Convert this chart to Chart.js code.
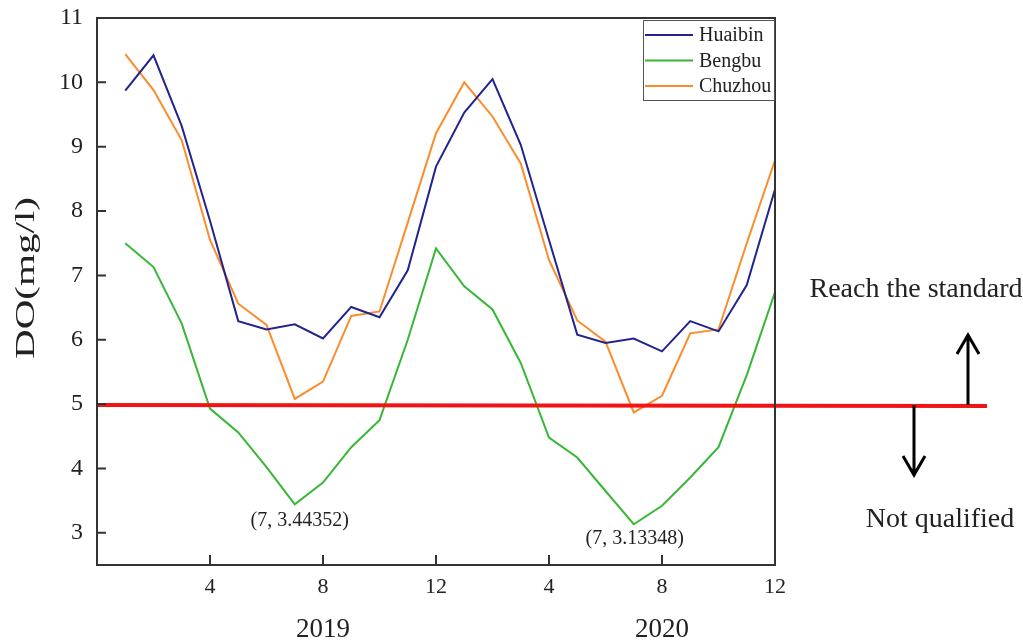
<!DOCTYPE html>
<html>
<head>
<meta charset="utf-8">
<script src="https://cdn.jsdelivr.net/npm/chart.js@4.4.1/dist/chart.umd.min.js"></script>
<style>
  body { margin: 0; background: #fff; }
  #wrap { width: 1023px; height: 642px; }
</style>
</head>
<body>
<div id="wrap"><canvas id="grafico" width="1023" height="642"></canvas></div>
<script>
// dados (mês 1..12 de 2019, depois 1..12 de 2020)
const anos = ['2019', '2020'];
const meses = [1, 2, 3, 4, 5, 6, 7, 8, 9, 10, 11, 12];

const huaibin = [9.87, 10.42, 9.32, 7.85, 6.29, 6.16, 6.24, 6.02, 6.51, 6.35, 7.08, 8.69,
                 9.53, 10.05, 9.03, 7.55, 6.08, 5.95, 6.02, 5.82, 6.29, 6.13, 6.85, 8.34];
const bengbu = [7.50, 7.13, 6.25, 4.93, 4.56, 4.02, 3.44352, 3.78, 4.33, 4.75, 6.00, 7.42,
                6.83, 6.47, 5.64, 4.48, 4.17, 3.65, 3.13348, 3.42, 3.86, 4.33, 5.45, 6.74];
const chuzhou = [10.44, 9.88, 9.10, 7.55, 6.56, 6.23, 5.08, 5.35, 6.37, 6.44, 7.82, 9.21,
                 10.00, 9.47, 8.74, 7.24, 6.30, 5.97, 4.87, 5.13, 6.10, 6.16, 7.50, 8.79];

const xTicks = [4, 8, 12, 16, 20, 24];
const xTickLabels = ['4', '8', '12', '4', '8', '12'];
const yTicks = [3, 4, 5, 6, 7, 8, 9, 10, 11];

const limite = 5; // padrão de OD (mg/l)
const minimos = [{ x: 7, y: 3.44352, texto: '(7, 3.44352)' }, { x: 19, y: 3.13348, texto: '(7, 3.13348)' }];

const serif = '"Liberation Serif", "DejaVu Serif", serif';

// eixo x contínuo: índice 1..24
const pontos = arr => arr.map((v, i) => ({ x: i + 1, y: v }));

const extras = {
    id: 'extras',
    afterDatasetsDraw(chart) {
        const ctx = chart.ctx;
        const xs = chart.scales.x, ys = chart.scales.y;
        const yl = ys.getPixelForValue(limite);
        ctx.save();

        // 🔹 linha vermelha do padrão
        ctx.strokeStyle = '#f01414';
        ctx.lineWidth = 4;
        ctx.beginPath();
        ctx.moveTo(chart.chartArea.left - 1, yl + 1);
        ctx.lineTo(987, yl + 2);
        ctx.stroke();

        // 🔹 rótulos dos mínimos
        ctx.fillStyle = '#222';
        ctx.font = '20px ' + serif;
        ctx.textAlign = 'center';
        ctx.textBaseline = 'middle';
        minimos.forEach((m, i) => {
            const px = xs.getPixelForValue(m.x);
            const py = ys.getPixelForValue(m.y);
            ctx.fillText(m.texto, px + (i === 0 ? 5 : 1), py + (i === 0 ? 16 : 15));
        });
        ctx.restore();
    },
    afterDraw(chart) {
        const ctx = chart.ctx;
        const a = chart.chartArea;
        const xs = chart.scales.x, ys = chart.scales.y;
        const yl = ys.getPixelForValue(limite) + 1;
        ctx.save();

        // 🔹 moldura
        ctx.strokeStyle = '#333';
        ctx.lineWidth = 2;
        ctx.strokeRect(a.left, a.top, a.right - a.left, a.bottom - a.top);

        // 🔹 marcas para dentro
        ctx.beginPath();
        yTicks.forEach(v => {
            const py = ys.getPixelForValue(v);
            ctx.moveTo(a.left, py);
            ctx.lineTo(a.left + 9, py);
        });
        xTicks.forEach(v => {
            const px = xs.getPixelForValue(v);
            ctx.moveTo(px, a.bottom);
            ctx.lineTo(px, a.bottom - 10);
        });
        ctx.stroke();

        // 🔹 legenda
        const lx = 643, ly = 20;
        ctx.fillStyle = '#fff';
        ctx.fillRect(lx, ly, 131, 80);
        ctx.strokeStyle = '#555';
        ctx.lineWidth = 1;
        ctx.strokeRect(lx + 0.5, ly + 0.5, 131, 80);
        ctx.font = '20px ' + serif;
        ctx.textAlign = 'left';
        ctx.textBaseline = 'middle';
        chart.data.datasets.forEach((ds, i) => {
            const yy = ly + 15 + i * 25.5;
            ctx.strokeStyle = ds.borderColor;
            ctx.lineWidth = 2;
            ctx.beginPath();
            ctx.moveTo(lx + 2, yy);
            ctx.lineTo(lx + 50, yy);
            ctx.stroke();
            ctx.fillStyle = '#222';
            ctx.fillText(ds.label, lx + 56, yy + 1);
        });

        // 🔹 setas
        ctx.strokeStyle = '#000';
        ctx.lineWidth = 3;
        ctx.beginPath();
        ctx.moveTo(968, yl);
        ctx.lineTo(968, yl - 70);
        ctx.moveTo(957, yl - 51);
        ctx.lineTo(968, yl - 70);
        ctx.lineTo(979, yl - 51);
        ctx.moveTo(914, yl);
        ctx.lineTo(914, yl + 70);
        ctx.moveTo(903, yl + 51);
        ctx.lineTo(914, yl + 70);
        ctx.lineTo(925, yl + 51);
        ctx.stroke();

        // 🔹 textos
        ctx.fillStyle = '#222';
        ctx.font = '28px ' + serif;
        ctx.textAlign = 'center';
        ctx.textBaseline = 'alphabetic';
        ctx.fillText('Reach the standard', 916, 297);
        ctx.fillText('Not qualified', 940, 527);

        // 🔹 anos
        ctx.font = '27px ' + serif;
        ctx.fillText(anos[0], xs.getPixelForValue(meses[7]), 637);
        ctx.fillText(anos[1], xs.getPixelForValue(12 + meses[7]), 637);

        // 🔹 título do eixo y
        ctx.translate(27, 278);
        ctx.rotate(-Math.PI / 2);
        ctx.font = '27px ' + serif;
        ctx.textBaseline = 'middle';
        const w = ctx.measureText('DO(mg/l)').width;
        ctx.scale(162 / w, 1);
        ctx.fillText('DO(mg/l)', 0, 0);
        ctx.restore();
    }
};

const ctx = document.getElementById('grafico').getContext('2d');

const grafico = new Chart(ctx, {
    type: 'line',
    data: {
        datasets: [
            { label: 'Huaibin', data: pontos(huaibin), borderColor: '#23238f', borderWidth: 2, pointRadius: 0, tension: 0 },
            { label: 'Bengbu', data: pontos(bengbu), borderColor: '#36b836', borderWidth: 2, pointRadius: 0, tension: 0 },
            { label: 'Chuzhou', data: pontos(chuzhou), borderColor: '#fb8c2c', borderWidth: 2, pointRadius: 0, tension: 0 }
        ]
    },
    options: {
        responsive: false,
        animation: false,
        layout: { padding: { top: 18, right: 248, left: 0, bottom: 0 } },
        plugins: {
            legend: { display: false },
            tooltip: { enabled: false }
        },
        scales: {
            x: {
                type: 'linear',
                min: 0,
                max: 24,
                grid: { display: false, drawTicks: false },
                border: { display: false },
                afterFit: s => { s.height = 77; s.paddingLeft = 0; s.paddingRight = 0; },
                afterBuildTicks: s => { s.ticks = xTicks.map(v => ({ value: v })); },
                ticks: {
                    padding: 9,
                    color: '#222',
                    font: { family: serif, size: 22 },
                    maxRotation: 0,
                    callback: v => xTickLabels[xTicks.indexOf(v)]
                }
            },
            y: {
                min: 2.5,
                max: 11,
                grid: { display: false, drawTicks: false },
                border: { display: false },
                afterFit: s => { s.width = 97; s.paddingTop = 0; s.paddingBottom = 0; },
                afterBuildTicks: s => { s.ticks = yTicks.map(v => ({ value: v })); },
                ticks: {
                    padding: 14,
                    color: '#222',
                    font: { family: serif, size: 24 }
                }
            }
        }
    },
    plugins: [extras]
});
</script>
</body>
</html>
